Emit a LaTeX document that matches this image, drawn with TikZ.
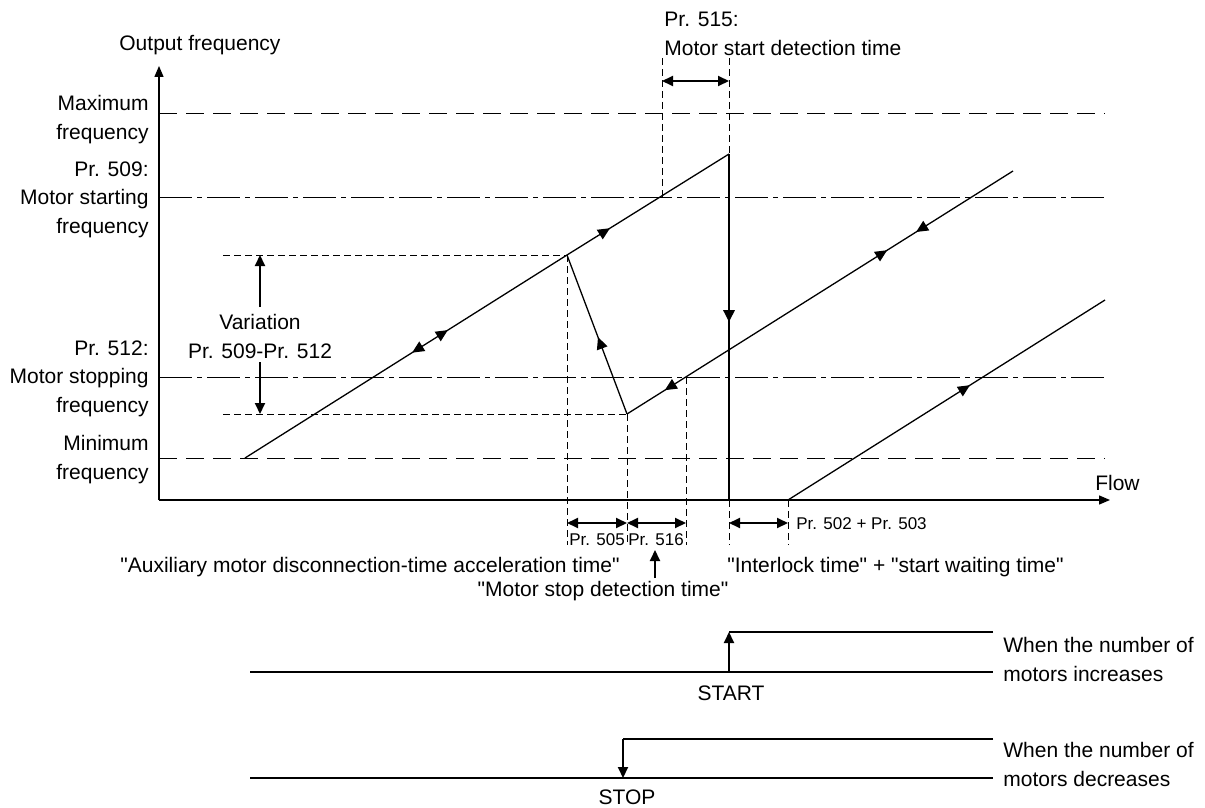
\documentclass[tikz,border=0pt]{standalone}
\usepackage{fontspec}
\setmainfont{Liberation Sans}
\newfontfamily\arialfont{Liberation Sans}
\usetikzlibrary{arrows.meta,decorations.markings}
\begin{document}
\begin{tikzpicture}[x=0.5pt,y=-0.5pt,
  lbl/.style={font={\arialfont\fontsize{10.5}{14.25}\selectfont}, inner sep=0pt},
  sml/.style={font={\arialfont\fontsize{8.5}{10}\selectfont}, inner sep=0pt},
  axis/.style={line width=0.7pt, -{Triangle[length=5.5pt,width=4.5pt]}},
  curve/.style={line width=0.65pt},
  thickv/.style={line width=1.4pt},
  sig/.style={line width=1pt},
  longdash/.style={line width=0.5pt, dash pattern=on 9pt off 4.5pt},
  dashdot/.style={line width=0.5pt, dash pattern=on 16.5pt off 2.5pt on 2.5pt off 2.5pt},
  shortdash/.style={line width=0.5pt, dash pattern=on 3.5pt off 2pt},
  tipend/.style={-{Triangle[length=5.5pt,width=5pt]}},
  dbl/.style={line width=1pt, {Triangle[length=5.5pt,width=5pt]}-{Triangle[length=5.5pt,width=5pt]}},
  tri/.tip={Triangle[length=6pt,width=5.5pt]}
]
\useasboundingbox (0,0) rectangle (1205,808);

% ---- key coordinates
\coordinate (O) at (159,500);
\coordinate (Ytop) at (159,66);
\coordinate (Xend) at (1110,500);
\coordinate (A) at (245,458);
\coordinate (P) at (567,255);
\coordinate (T) at (729,154);
\coordinate (B) at (627,414);
\coordinate (E) at (1013,171);
\coordinate (C) at (788,500);
\coordinate (F) at (1105,300);
\coordinate (Tb) at (729,500);

% ---- horizontal reference lines
\coordinate (mx1) at (159,114); \coordinate (mx2) at (1105,114);
\coordinate (st1) at (159,197); \coordinate (st2) at (1105,197);
\coordinate (sp1) at (159,377); \coordinate (sp2) at (1105,377);
\coordinate (mn1) at (159,458); \coordinate (mn2) at (1105,458);
\draw[longdash] (mx1) -- (mx2);
\draw[dashdot] (st1) -- (st2);
\draw[dashdot] (sp1) -- (sp2);
\draw[longdash] (mn1) -- (mn2);

% ---- axes
\draw[axis] (O) -- (Ytop);
\draw[axis] (O) -- (Xend);

% ---- variation dashed levels
\coordinate (vu) at (223,255);
\coordinate (vl) at (223,414);
\draw[shortdash] (vu) -- (P);
\draw[shortdash] (vl) -- (B);
\coordinate (va1) at (260,307); \coordinate (va1t) at (260,255);
\coordinate (va2) at (260,362); \coordinate (va2t) at (260,414);
\draw[sig, tipend] (va1) -- (va1t);
\draw[sig, tipend] (va2) -- (va2t);

% ---- vertical dashed guides
\coordinate (g1a) at (567,545);
\coordinate (g2a) at (627,545);
\coordinate (g3t) at (686,377); \coordinate (g3a) at (686,545);
\coordinate (g4t) at (662,58); \coordinate (g4b) at (662,197);
\coordinate (g5t) at (729,58);
\coordinate (g6a) at (729,545);
\coordinate (g7a) at (788,545);
\draw[shortdash] (P) -- (g1a);
\draw[shortdash] (B) -- (g2a);
\draw[shortdash] (g3t) -- (g3a);
\draw[shortdash] (g4t) -- (g4b);
\draw[shortdash] (g5t) -- (T);
\draw[shortdash] (Tb) -- (g6a);
\draw[shortdash] (C) -- (g7a);

% ---- curves with direction arrows
\draw[curve, postaction={decorate}, decoration={markings,
   mark=at position 0.519 with {\arrowreversed{tri}},
   mark=at position 0.63 with {\arrow{tri}}}] (A) -- (P);
\draw[curve, postaction={decorate}, decoration={markings,
   mark=at position 0.265 with {\arrow{tri}}}] (P) -- (T);
\draw[curve, postaction={decorate}, decoration={markings,
   mark=at position 0.484 with {\arrow{tri}}}] (B) -- (P);
\draw[curve, postaction={decorate}, decoration={markings,
   mark=at position 0.098 with {\arrowreversed{tri}},
   mark=at position 0.674 with {\arrow{tri}},
   mark=at position 0.749 with {\arrowreversed{tri}}}] (B) -- (E);
\draw[curve, postaction={decorate}, decoration={markings,
   mark=at position 0.574 with {\arrow{tri}}}] (C) -- (F);
\draw[thickv, postaction={decorate}, decoration={markings,
   mark=at position 0.486 with {\arrow{tri}}}] (T) -- (Tb);

% ---- time-span arrows
\coordinate (d515a) at (662,81); \coordinate (d515b) at (729,81);
\coordinate (d505a) at (567,523); \coordinate (d505b) at (627,523);
\coordinate (d516b) at (686,523);
\coordinate (d502a) at (729,523); \coordinate (d502b) at (788,523);
\draw[dbl] (d515a) -- (d515b);
\draw[dbl] (d505a) -- (d505b);
\draw[dbl] (d505b) -- (d516b);
\draw[dbl] (d502a) -- (d502b);
\coordinate (msa) at (655,578); \coordinate (mst) at (655,550);
\draw[sig, tipend] (msa) -- (mst);

% ---- labels
\node[lbl, anchor=base west] (of) at (119,51) {Output frequency};
\node[lbl, anchor=base east] (flow) at (1140,490) {Flow};
\node[lbl, anchor=north east, align=right] (lmax) at (149,95) {Maximum\\frequency};
\node[lbl, anchor=north east, align=right] (l509) at (149,161) {Pr. 509:\\Motor starting\\frequency};
\node[lbl, anchor=north east, align=right] (l512) at (149,340) {Pr. 512:\\Motor stopping\\frequency};
\node[lbl, anchor=north east, align=right] (lmin) at (149,435) {Minimum\\frequency};
\node[lbl, anchor=north, align=center, fill=white, inner ysep=2pt] (lvar) at (260,310) {Variation\\Pr. 509-Pr. 512};
\node[lbl, anchor=north west, align=left] (l515) at (664,12) {Pr. 515:\\Motor start detection time};
\node[sml, anchor=base] (l505) at (597,545) {Pr. 505};
\node[sml, anchor=base] (l516) at (656,545) {Pr. 516};
\node[sml, anchor=base west] (l502) at (796,529) {Pr. 502 + Pr. 503};
\node[lbl, anchor=base west] (laux) at (120,572) {"Auxiliary motor disconnection-time acceleration time"};
\node[lbl, anchor=base west] (lint) at (727,572) {"Interlock time" + "start waiting time"};
\node[lbl, anchor=base] (lmsd) at (603,596) {"Motor stop detection time"};

% ---- START / STOP signals
\coordinate (s1l) at (250,672); \coordinate (s1r) at (993,672);
\coordinate (s1b) at (729,672); \coordinate (s1t) at (729,632);
\coordinate (s1h) at (993,632);
\draw[sig] (s1l) -- (s1r);
\draw[sig] (s1h) -- (s1t);
\draw[sig, tipend] (s1b) -- (s1t);
\node[lbl, anchor=base] (lstart) at (731,700) {START};
\node[lbl, anchor=north west, align=left] (linc) at (1003,637) {When the number of\\motors increases};

\coordinate (s2l) at (250,778); \coordinate (s2r) at (993,778);
\coordinate (s2t) at (623,739); \coordinate (s2b) at (623,778);
\coordinate (s2h) at (993,739);
\draw[sig] (s2l) -- (s2r);
\draw[sig] (s2h) -- (s2t);
\draw[sig, tipend] (s2t) -- (s2b);
\node[lbl, anchor=base] (lstop) at (627,804) {STOP};
\node[lbl, anchor=north west, align=left] (ldec) at (1003,742) {When the number of\\motors decreases};
\end{tikzpicture}
\end{document}
